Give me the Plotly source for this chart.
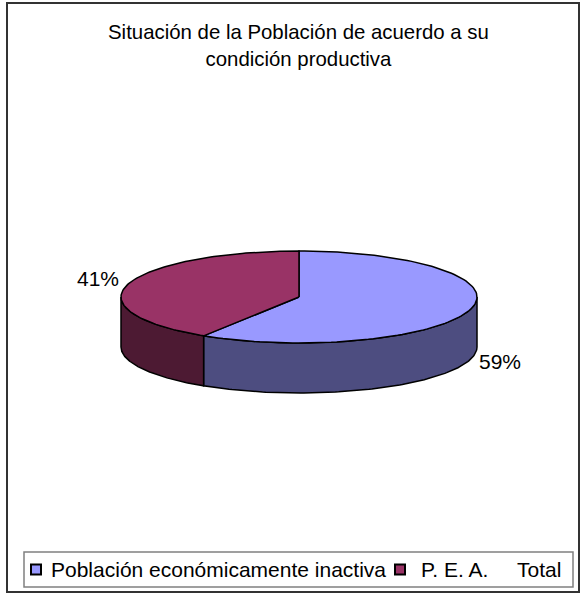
import numpy as np
import plotly.graph_objects as go

# ---- data ----
categories = ["Población económicamente inactiva", "P. E. A."]
values = [59, 41]
pct_labels = ["59%", "41%"]
top_colors = ["#9999FF", "#993366"]
side_colors = ["#4D4D80", "#4D1A33"]
extra_legend_label = "Total"
title_text = "Situación de la Población de acuerdo a su<br>condición productiva"

# ---- geometry (pixel space) ----
W, H = 586, 594
cx, cy = 299, 297
rx, ry = 178, 46
depth = 50
FONT = "Liberation Sans, Arial, sans-serif"


def arc(a, b, dy=0.0, n=120):
    t = np.radians(np.linspace(a, b, n))
    return cx + rx * np.sin(t), cy - ry * np.cos(t) + dy


fig = go.Figure()

total = float(sum(values))
starts, ends = [], []
acc = 0.0
for v in values:
    starts.append(acc / total * 360.0)
    acc += v
    ends.append(acc / total * 360.0)

# sides (front half only: 90..270 degrees clockwise from top)
for i in range(len(values)):
    a, b = max(starts[i], 90.0), min(ends[i], 270.0)
    if b <= a:
        continue
    xt, yt = arc(a, b)
    xb, yb = arc(a, b, dy=depth)
    xs = np.concatenate([xt, xb[::-1], xt[:1]])
    ys = np.concatenate([yt, yb[::-1], yt[:1]])
    fig.add_trace(go.Scatter(x=xs, y=ys, mode="lines", fill="toself",
                             fillcolor=side_colors[i],
                             line=dict(color="black", width=1.5),
                             hoverinfo="skip", showlegend=False))

# top faces
for i in range(len(values)):
    xt, yt = arc(starts[i], ends[i])
    xs = np.concatenate([[cx], xt, [cx]])
    ys = np.concatenate([[cy], yt, [cy]])
    fig.add_trace(go.Scatter(x=xs, y=ys, mode="lines", fill="toself",
                             fillcolor=top_colors[i],
                             line=dict(color="black", width=1.5),
                             hoverinfo="text", text=f"{categories[i]}: {pct_labels[i]}",
                             showlegend=False))

# percentage labels
for i in range(len(values)):
    mid = np.radians((starts[i] + ends[i]) / 2.0)
    lx = cx + (rx + 31) * np.sin(mid)
    c = np.cos(mid)
    ly = cy - (ry + 12) * c + (depth if c < 0 else 0) - 2
    fig.add_annotation(x=lx, y=ly, text=pct_labels[i], showarrow=False,
                       font=dict(family=FONT, size=21, color="black"),
                       xanchor="center", yanchor="middle")

# title
fig.add_annotation(x=298, y=45, text=title_text, showarrow=False,
                   font=dict(family=FONT, size=20.4, color="black"),
                   xanchor="center", yanchor="middle")

# outer border
fig.add_shape(type="rect", x0=7, x1=579, y0=3, y1=592,
              line=dict(color="#333333", width=2), layer="below")

# legend (box, swatches, labels)
leg_y = 569.5
fig.add_shape(type="rect", x0=24, x1=573, y0=552, y1=587,
              line=dict(color="#808080", width=1.5), fillcolor="white", layer="below")
sw = [31, 395]
txt_x = [49, 419]
for i in range(len(values)):
    fig.add_shape(type="rect", x0=sw[i], x1=sw[i] + 10, y0=leg_y - 5, y1=leg_y + 5,
                  line=dict(color="black", width=2), fillcolor=top_colors[i])
    fig.add_annotation(x=txt_x[i], y=leg_y, text=categories[i], showarrow=False,
                       font=dict(family=FONT, size=21, color="black"),
                       xanchor="left", yanchor="middle")
fig.add_annotation(x=515, y=leg_y, text=extra_legend_label, showarrow=False,
                   font=dict(family=FONT, size=21, color="black"),
                   xanchor="left", yanchor="middle")

fig.update_layout(
    width=W, height=H,
    margin=dict(l=0, r=0, t=0, b=0),
    paper_bgcolor="white", plot_bgcolor="white",
    xaxis=dict(range=[0, W], visible=False, fixedrange=True),
    yaxis=dict(range=[H, 0], visible=False, fixedrange=True),
    showlegend=False,
)

fig.write_html("out.html", config={"displayModeBar": False},
               post_script="document.body.style.margin='0';document.body.style.overflow='hidden';")
